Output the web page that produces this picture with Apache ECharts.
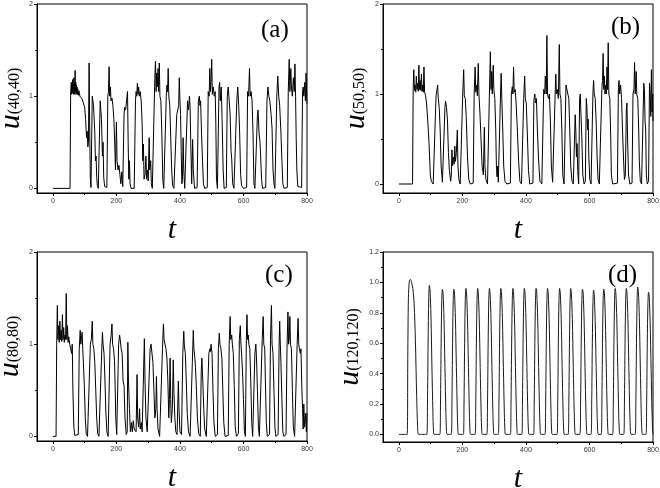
<!DOCTYPE html>
<html><head><meta charset="utf-8">
<script src="https://cdn.jsdelivr.net/npm/echarts@6/dist/echarts.min.js"></script>
<style>html,body{margin:0;padding:0;background:#fff}#c{width:660px;height:488px}</style>
</head><body><div id="c"></div>
<script>
// ---- tick values ----
const xMajor = [0, 200, 400, 600, 800];
const xMinor = [100, 300, 500, 700];
const yMajorABC = [0, 1, 2];
const yMinorABC = [0.5, 1.5];
const yMajorD = [0, 0.2, 0.4, 0.6, 0.8, 1.0, 1.2];
const yMinorD = [0.1, 0.3, 0.5, 0.7, 0.9, 1.1];
const panelLabels = ['(a)', '(b)', '(c)', '(d)'];
const yNames = ['(40,40)', '(50,50)', '(80,80)', '(120,120)'];

// ---- series (t, u) ----
const seriesA = [[0,0],[54,0],[56,1.05],[58,1.15],[59,1.02],[60,1.12],[61,1.04],[62,1.18],[63,1.03],[64,1.1],[65,1.02],[66,1.2],[67,1.04],[68,1.14],[69,1.02],[70,1.28],[71,1.05],[72,1.15],[73,1.02],[74,1.12],[75,1.03],[76,1.1],[77,1.02],[78,1.08],[80,1.01],[82,1.06],[85,1.0],[88,1.02],[92,0.97],[96,0.95],[100,0.88],[103,0.75],[106,0.55],[108,0.62],[110,0.45],[112,0.5],[114,1.36],[116,0.6],[118,0.1],[120,0.01],[122,0.02],[124,1.0],[126,1.02],[128,0.9],[130,0.92],[132,0.6],[134,0.3],[136,0.35],[138,0.12],[140,0.03],[143,0.0],[146,0.02],[149,0.95],[151,0.93],[153,0.75],[156,0.35],[158,0.5],[160,0.12],[163,0.02],[166,0.0],[170,0.01],[173,1.0],[175,1.05],[177,1.32],[179,1.0],[181,1.1],[183,0.95],[186,0.98],[189,0.9],[192,0.75],[195,0.45],[197,0.2],[199,0.55],[200,0.72],[202,0.3],[205,0.2],[208,0.25],[211,0.15],[214,0.05],[217,0.18],[220,0.02],[222,0.0],[224,0.8],[226,0.88],[229,0.85],[232,0.95],[235,1.05],[237,0.5],[239,0.1],[241,0.3],[243,0.05],[246,0.0],[256,0.0],[260,0.95],[262,1.05],[264,1.0],[266,1.14],[268,1.02],[270,1.1],[272,1.0],[275,1.05],[278,0.95],[281,0.7],[283,0.3],[285,0.48],[287,0.1],[290,0.15],[293,0.35],[295,0.1],[298,0.2],[300,0.08],[303,0.55],[305,0.2],[308,0.3],[310,0.05],[313,0.0],[318,0.01],[321,1.2],[323,1.38],[325,1.05],[327,1.25],[329,1.1],[331,1.3],[333,1.05],[335,1.36],[337,1.0],[340,0.95],[343,0.6],[346,0.1],[349,0.0],[354,0.01],[357,1.0],[359,1.12],[361,1.05],[363,1.3],[365,1.0],[368,0.9],[371,0.55],[374,0.2],[377,0.03],[381,0.0],[387,0.01],[390,0.8],[393,0.85],[396,0.9],[398,1.2],[400,0.95],[402,0.8],[404,0.4],[406,0.05],[408,0.1],[410,0.55],[412,0.2],[415,0.0],[420,0.01],[424,0.95],[427,0.85],[430,1.0],[432,0.88],[434,0.5],[437,0.05],[440,0.53],[442,0.2],[446,0.0],[454,0.01],[458,0.95],[461,1.0],[463,0.9],[465,0.95],[468,0.6],[471,0.3],[474,0.05],[478,0.0],[486,0.01],[489,1.05],[492,1.0],[494,1.3],[496,1.05],[498,1.15],[500,1.4],[502,1.02],[505,1.1],[508,1.0],[511,1.05],[513,0.7],[515,0.1],[518,0.0],[520,0.02],[523,1.1],[525,1.15],[527,0.95],[530,1.1],[533,0.7],[536,0.2],[539,0.0],[546,0.01],[549,1.0],[552,1.1],[555,0.95],[558,0.8],[561,0.4],[563,0.32],[566,0.05],[570,0.0],[576,0.02],[579,0.95],[582,1.1],[585,0.9],[588,0.6],[591,0.15],[594,0.03],[600,0.0],[610,0.01],[613,1.05],[616,1.0],[619,1.3],[621,1.0],[624,1.05],[627,0.95],[630,0.6],[633,0.05],[636,0.0],[641,0.02],[644,0.8],[646,0.85],[649,0.6],[652,0.5],[654,0.35],[657,0.1],[660,0.0],[670,0.01],[674,0.95],[677,1.1],[680,1.0],[683,0.95],[687,0.8],[690,0.65],[693,0.2],[696,0.05],[699,0.0],[702,0.02],[705,1.0],[708,1.22],[711,1.0],[714,0.9],[718,0.6],[721,0.3],[724,0.05],[728,0.0],[738,0.01],[741,1.05],[744,1.4],[746,1.05],[749,1.3],[751,1.1],[754,1.0],[757,1.2],[760,1.05],[762,1.35],[764,1.0],[766,0.55],[768,0.2],[771,0.02],[775,0.0],[783,0.01],[786,1.05],[788,1.1],[790,1.0],[793,1.15],[795,0.95],[797,1.25],[799,1.0],[800,0.92]];

const seriesB = [[0,0],[43,0],[45,1.05],[47,1.27],[49,1.04],[51,1.1],[53,1.02],[55,1.2],[57,1.05],[59,1.12],[61,1.03],[63,1.32],[65,1.05],[67,1.15],[69,1.04],[71,1.22],[73,1.03],[75,1.1],[77,1.02],[79,1.3],[81,1.02],[84,0.98],[87,0.9],[91,0.7],[95,0.45],[99,0.1],[102,0.03],[108,0.0],[114,0.02],[117,0.98],[120,1.05],[122,1.1],[124,0.95],[127,0.85],[130,0.6],[133,0.2],[137,0.02],[142,0.0],[145,0.85],[147,0.92],[150,0.85],[153,0.7],[156,0.35],[159,0.15],[163,0.03],[165,0.1],[167,0.38],[169,0.2],[172,0.3],[174,0.22],[176,0.42],[178,0.25],[181,0.35],[184,0.6],[186,0.2],[189,0.05],[193,0.0],[198,0.02],[201,1.0],[204,1.27],[206,0.98],[209,0.95],[212,0.75],[216,0.3],[220,0.05],[225,0.0],[234,0.01],[237,1.0],[240,1.3],[242,1.02],[245,1.1],[247,0.98],[250,1.34],[252,1.0],[255,0.8],[258,0.55],[262,0.2],[266,0.1],[269,0.63],[271,0.2],[274,0.05],[279,0.0],[282,0.02],[285,1.0],[288,1.47],[290,1.05],[292,1.25],[294,1.0],[297,1.32],[299,1.05],[302,0.95],[305,0.6],[307,0.2],[309,0.08],[311,0.2],[313,0.02],[317,0.0],[320,1.0],[322,1.23],[324,0.95],[327,0.6],[330,0.2],[334,0.03],[340,0.0],[351,0.01],[354,1.0],[357,1.08],[359,1.0],[361,1.3],[363,1.02],[366,1.05],[369,0.9],[373,0.6],[377,0.25],[381,0.03],[386,0.0],[390,0.02],[393,0.95],[396,1.2],[398,0.95],[401,0.9],[405,0.5],[408,0.15],[412,0.0],[422,0.01],[425,0.93],[428,1.0],[430,0.9],[433,0.95],[436,0.6],[440,0.25],[444,0.03],[450,0.0],[453,0.02],[456,1.05],[459,1.0],[461,1.2],[464,1.0],[466,1.65],[468,1.0],[471,0.95],[474,1.0],[477,0.7],[480,0.2],[484,0.02],[489,0.0],[492,1.0],[494,1.22],[496,1.0],[499,1.05],[502,0.95],[505,1.55],[507,1.0],[510,0.95],[513,0.6],[516,0.1],[520,0.0],[523,0.02],[526,1.1],[529,1.08],[532,1.0],[535,0.95],[538,0.6],[541,0.2],[545,0.03],[549,0.0],[552,0.02],[555,0.77],[557,0.6],[559,0.3],[561,0.45],[563,0.15],[566,0.0],[569,0.95],[571,1.0],[573,0.8],[576,0.5],[579,0.1],[583,0.0],[587,0.03],[590,0.95],[592,0.85],[594,0.6],[596,0.72],[598,0.3],[601,0.05],[605,0.0],[608,0.02],[611,1.02],[613,1.15],[615,1.0],[618,0.95],[621,0.7],[624,0.3],[627,0.05],[631,0.0],[636,0.02],[639,1.05],[641,1.15],[643,1.45],[645,1.05],[647,1.2],[649,1.0],[651,1.1],[653,1.0],[655,1.3],[657,1.05],[659,1.57],[661,1.0],[664,0.95],[667,0.5],[669,0.1],[673,0.0],[688,0.01],[691,1.07],[693,1.15],[695,1.0],[698,1.1],[701,0.95],[704,0.6],[707,0.3],[710,0.05],[713,0.1],[716,0.82],[718,0.9],[720,0.5],[723,0.1],[727,0.0],[734,0.01],[737,1.0],[740,1.05],[742,1.35],[744,1.0],[747,1.25],[749,1.0],[752,0.95],[755,0.6],[757,0.25],[760,0.03],[764,0.0],[768,0.02],[771,1.12],[773,1.05],[775,0.7],[777,0.6],[779,0.1],[782,0.0],[786,0.03],[789,1.12],[791,1.0],[793,0.75],[795,1.27],[797,0.8],[799,1.0],[800,0.7]];

const seriesC = [[0,0],[10,0],[12,1.0],[14,1.42],[16,1.05],[18,1.2],[20,1.02],[22,1.25],[24,1.05],[26,1.15],[28,1.03],[30,1.32],[32,1.05],[34,1.18],[36,1.02],[38,1.1],[40,1.05],[42,1.55],[44,1.05],[46,1.2],[48,1.02],[50,1.08],[53,1.0],[56,0.95],[59,0.9],[61,1.0],[63,0.5],[66,0.1],[69,0.01],[75,0.0],[80,0.02],[83,0.95],[86,1.15],[88,1.0],[90,0.98],[92,1.13],[94,0.95],[96,0.8],[99,0.55],[102,0.2],[105,0.03],[109,0.0],[115,0.02],[118,1.0],[121,1.05],[124,1.25],[126,1.0],[129,0.95],[132,0.8],[135,0.5],[138,0.2],[141,0.03],[145,0.0],[151,0.02],[154,0.95],[156,1.13],[158,1.0],[161,0.9],[164,0.6],[167,0.25],[170,0.05],[174,0.0],[177,0.02],[180,1.0],[183,1.08],[186,1.22],[188,1.0],[191,0.95],[194,0.82],[196,0.55],[198,0.2],[201,0.02],[205,0.0],[207,1.0],[210,1.1],[212,1.05],[215,0.95],[218,0.9],[221,0.6],[224,0.55],[227,0.2],[231,0.02],[234,0.05],[236,1.02],[238,0.6],[241,0.3],[244,0.05],[247,0.15],[250,0.05],[253,0.17],[256,0.08],[259,0.1],[262,0.05],[265,0.67],[267,0.2],[270,0.1],[273,0.3],[275,0.08],[278,0.15],[281,0.05],[285,0.03],[288,1.06],[290,0.6],[293,0.2],[297,0.05],[302,0.04],[306,0.95],[309,1.0],[312,1.02],[315,0.8],[318,0.5],[321,0.2],[324,0.3],[326,0.65],[328,0.3],[331,0.08],[336,0.0],[342,0.02],[345,0.95],[348,1.22],[350,1.05],[353,1.0],[356,0.95],[359,0.85],[362,0.6],[365,0.2],[367,0.4],[369,0.85],[371,0.4],[373,0.15],[376,0.3],[379,0.83],[381,0.5],[384,0.2],[387,0.05],[391,0.02],[395,0.6],[397,0.3],[400,0.05],[405,0.02],[409,0.9],[412,1.14],[414,0.98],[417,0.9],[420,0.6],[423,0.25],[427,0.05],[432,0.0],[436,0.02],[439,0.8],[442,1.15],[444,0.95],[447,0.85],[449,0.75],[452,0.5],[455,0.2],[459,0.03],[464,0.0],[467,0.7],[469,0.85],[472,0.6],[475,0.3],[478,0.08],[483,0.0],[488,0.02],[491,0.9],[494,0.95],[496,0.92],[498,1.0],[501,0.9],[504,0.5],[507,0.15],[511,0.0],[518,0.02],[521,0.95],[524,1.12],[526,1.0],[529,0.95],[532,0.85],[535,0.5],[538,0.15],[542,0.0],[552,0.01],[555,1.0],[558,1.3],[560,1.05],[563,1.1],[565,1.0],[568,0.9],[571,0.55],[574,0.1],[578,0.0],[584,0.03],[587,1.05],[590,1.2],[592,1.0],[594,0.9],[597,0.7],[600,0.4],[603,0.05],[606,0.0],[609,1.05],[611,1.32],[613,1.05],[615,1.1],[617,1.0],[620,0.95],[623,0.6],[626,0.15],[629,0.0],[633,0.02],[636,0.9],[639,1.0],[641,0.85],[644,0.5],[647,0.1],[650,0.0],[656,0.02],[659,1.05],[662,1.3],[664,1.0],[667,0.95],[669,0.6],[672,0.15],[675,0.0],[682,0.02],[685,1.05],[688,1.42],[690,1.0],[693,0.9],[696,0.5],[699,0.1],[702,0.0],[709,0.02],[712,0.95],[714,1.25],[716,1.0],[718,0.8],[721,0.4],[724,0.05],[727,0.0],[734,0.02],[737,0.95],[740,1.35],[742,1.0],[744,1.05],[746,1.3],[748,1.0],[751,0.95],[754,0.5],[757,0.1],[761,0.0],[766,0.02],[769,1.0],[772,1.28],[774,1.0],[776,0.95],[779,0.9],[781,0.95],[784,0.5],[786,0.3],[788,0.08],[790,0.35],[792,0.1],[795,0.25],[798,0.05],[800,0.25]];

const seriesD = [[0,0],[26,0],[28,0.5],[30,0.9],[33,1.01],[36,1.02],[40,1.0],[44,0.96],[48,0.86],[52,0.62],[56,0.25],[59,0.05],[62,0],
[88,0],[90,0.2],[92,0.6],[94,0.9],[96,0.98],[98,0.95],[101,0.78],[104,0.45],[107,0.15],[109,0.02],[111,0],
[129,0],[131,0.2],[133,0.6],[135,0.88],[137,0.955],[139,0.93],[142,0.76],[145,0.44],[148,0.14],[150,0.02],[152,0],
[165,0],[167,0.2],[169,0.6],[171,0.88],[173,0.955],[175,0.93],[178,0.76],[181,0.44],[184,0.14],[186,0.02],[188,0],
[203,0],[205,0.2],[207,0.6],[209,0.88],[211,0.96],[213,0.93],[216,0.76],[219,0.44],[222,0.14],[224,0.02],[226,0],
[240,0],[242,0.2],[244,0.6],[246,0.88],[248,0.96],[250,0.93],[253,0.76],[256,0.44],[259,0.14],[261,0.02],[263,0],
[277,0],[279,0.2],[281,0.6],[283,0.88],[285,0.96],[287,0.93],[290,0.76],[293,0.44],[296,0.14],[298,0.02],[300,0],
[313,0],[315,0.2],[317,0.6],[319,0.88],[321,0.96],[323,0.93],[326,0.76],[329,0.44],[332,0.14],[334,0.02],[336,0],
[351,0],[353,0.2],[355,0.6],[357,0.88],[359,0.96],[361,0.93],[364,0.76],[367,0.44],[370,0.14],[372,0.02],[374,0],
[387,0],[389,0.2],[391,0.6],[393,0.88],[395,0.96],[397,0.93],[400,0.76],[403,0.44],[406,0.14],[408,0.02],[410,0],
[424,0],[426,0.2],[428,0.6],[430,0.88],[432,0.96],[434,0.93],[437,0.76],[440,0.44],[443,0.14],[445,0.02],[447,0],
[460,0],[462,0.2],[464,0.6],[466,0.88],[468,0.96],[470,0.93],[473,0.76],[476,0.44],[479,0.14],[481,0.02],[483,0],
[498,0],[500,0.2],[502,0.6],[504,0.88],[506,0.96],[508,0.93],[511,0.76],[514,0.44],[517,0.14],[519,0.02],[521,0],
[533,0],[535,0.2],[537,0.6],[539,0.88],[541,0.96],[543,0.93],[546,0.76],[549,0.44],[552,0.14],[554,0.02],[556,0],
[570,0],[572,0.2],[574,0.6],[576,0.88],[578,0.955],[580,0.93],[583,0.76],[586,0.44],[589,0.14],[591,0.02],[593,0],
[605,0],[607,0.2],[609,0.6],[611,0.87],[613,0.95],[615,0.92],[618,0.75],[621,0.44],[624,0.14],[626,0.02],[628,0],
[637,0],[639,0.2],[641,0.6],[643,0.88],[645,0.955],[647,0.93],[650,0.76],[653,0.44],[656,0.14],[658,0.02],[660,0],
[673,0],[675,0.2],[677,0.6],[679,0.88],[681,0.96],[683,0.93],[686,0.76],[689,0.44],[692,0.14],[694,0.02],[696,0],
[708,0],[710,0.2],[712,0.6],[714,0.88],[716,0.96],[718,0.93],[721,0.76],[724,0.44],[727,0.14],[729,0.02],[731,0],
[744,0],[746,0.2],[748,0.6],[750,0.89],[752,0.97],[754,0.94],[757,0.77],[760,0.45],[763,0.14],[765,0.02],[767,0],
[778,0],[780,0.2],[782,0.6],[784,0.86],[786,0.935],[788,0.91],[791,0.74],[794,0.43],[797,0.14],[799,0.02],[800,0]];

const allSeries = [seriesA, seriesB, seriesC, seriesD];

// ---- layout ----
const grids = [
  {left: 37, top: 4, width: 270, height: 189},
  {left: 383, top: 4, width: 270, height: 189},
  {left: 37, top: 252, width: 270, height: 189},
  {left: 383, top: 252, width: 270, height: 190}
];
const yMins = [-0.05, -0.1, -0.05, -0.05];
const yMaxs = [2, 2, 2, 1.2];
const yNameGaps = [11, 12, 12, 18];
const labelPos = [[261, 18], [611, 15], [265, 263], [608, 263]];

const axisColor = '#000';
const xAxes = [], yAxes = [], series = [], titles = [];
for (let i = 0; i < 4; i++) {
  xAxes.push({
    gridIndex: i, type: 'value', min: -50, max: 800, position: 'bottom',
    axisLine: {show: true, onZero: false, lineStyle: {color: axisColor, width: 1}},
    axisTick: {show: true, customValues: xMajor, length: 3, lineStyle: {color: axisColor}},
    axisLabel: {customValues: xMajor, fontSize: 7, color: '#333', margin: 5, fontFamily: 'Liberation Sans'},
    splitLine: {show: false},
    name: 't', nameLocation: 'middle', nameGap: 22, nameMoveOverlap: false,
    nameTextStyle: {fontFamily: 'Liberation Serif', fontStyle: 'italic', fontSize: 30, color: '#000'}
  });
  xAxes.push({
    gridIndex: i, type: 'value', min: -50, max: 800, position: 'bottom',
    axisLine: {show: false, onZero: false},
    axisTick: {show: true, customValues: xMinor, length: 2, lineStyle: {color: axisColor}},
    axisLabel: {show: false}, splitLine: {show: false}
  });
  const maj = i === 3 ? yMajorD : yMajorABC;
  const min = i === 3 ? yMinorD : yMinorABC;
  yAxes.push({
    gridIndex: i, type: 'value', min: yMins[i], max: yMaxs[i], position: 'left',
    axisLine: {show: true, onZero: false, lineStyle: {color: axisColor, width: 1}},
    axisTick: {show: true, customValues: maj, length: 3, lineStyle: {color: axisColor}},
    axisLabel: {customValues: maj, fontSize: 7, color: '#333', margin: 4, fontFamily: 'Liberation Sans',
      formatter: v => i === 3 ? v.toFixed(1) : String(Math.round(v))},
    splitLine: {show: false},
    name: '{u|u}{p|' + yNames[i] + '}', nameLocation: 'middle', nameRotate: 90, nameGap: yNameGaps[i],
    nameMoveOverlap: false,
    nameTextStyle: {rich: {
      u: {fontFamily: 'Liberation Serif', fontStyle: 'italic', fontSize: 30, lineHeight: 30, verticalAlign: 'bottom', color: '#000'},
      p: {fontFamily: 'Liberation Serif', fontSize: 16, lineHeight: 16, verticalAlign: 'bottom', padding: [0, 0, 3, 0], color: '#000'}
    }}
  });
  yAxes.push({
    gridIndex: i, type: 'value', min: yMins[i], max: yMaxs[i], position: 'left',
    axisLine: {show: false, onZero: false},
    axisTick: {show: true, customValues: min, length: 2, lineStyle: {color: axisColor}},
    axisLabel: {show: false}, splitLine: {show: false}
  });
  series.push({
    type: 'line', xAxisIndex: 2 * i, yAxisIndex: 2 * i, data: allSeries[i],
    showSymbol: false, symbol: 'none', smooth: i === 3 ? 0.3 : false,
    lineStyle: {color: i === 3 ? '#1a1a1a' : '#000', width: 1}, animation: false
  });
  titles.push({
    text: panelLabels[i], left: labelPos[i][0], top: labelPos[i][1], padding: 0,
    textStyle: {fontFamily: 'Liberation Serif', fontWeight: 'normal', fontSize: 25, color: '#000'}
  });
}

const chart = echarts.init(document.getElementById('c'), null, {renderer: 'canvas'});
chart.setOption({
  animation: false,
  backgroundColor: '#fff',
  title: titles,
  grid: grids.map(g => Object.assign({show: true, borderColor: '#000', borderWidth: 1, backgroundColor: 'transparent',
    containLabel: false, outerBoundsMode: 'none'}, g)),
  xAxis: xAxes,
  yAxis: yAxes,
  series: series
});
</script>
</body></html>
